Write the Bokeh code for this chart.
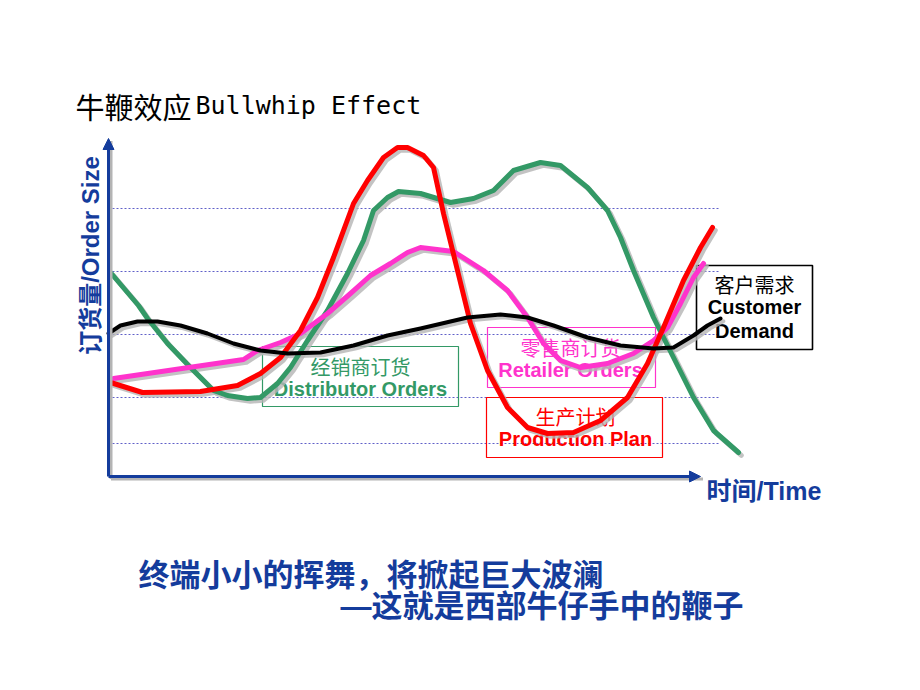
from bokeh.plotting import figure
from bokeh.models import ColumnDataSource, Range1d, Arrow, NormalHead
from bokeh.transform import dodge
from bokeh.core.properties import value
from bokeh.embed import file_html
from bokeh.resources import INLINE

# ---------------- data (time units, order-size units) ----------------
green_t = [0.2, 3.0, 3.9, 5.9, 8.2, 10.5, 11.9, 13.9, 15.2, 16.9, 18.2, 19.9, 21.9, 23.9, 25.5, 26.5,
           27.9, 29.0, 31.2, 34.2, 36.5, 38.5, 40.5, 43.2, 45.2, 47.9, 49.9, 51.2, 52.5, 54.5, 56.5,
           58.5, 60.5, 63.0]
green_v = [20.3, 17.0, 15.7, 13.2, 10.8, 8.5, 8.0, 7.7, 7.8, 9.2, 10.8, 13.5, 16.5, 20.2, 23.5, 26.5,
           27.8, 28.4, 28.2, 27.3, 27.7, 28.5, 30.5, 31.3, 31.0, 28.8, 26.5, 23.8, 20.5, 15.8, 11.8,
           7.8, 4.5, 2.3]

red_t = [0.2, 3.4, 9.2, 12.9, 15.2, 17.2, 19.2, 20.9, 22.5, 24.5, 25.9, 27.5, 28.9, 29.9, 31.5, 32.5,
         33.5, 34.9, 36.2, 37.9, 39.9, 41.9, 43.9, 46.5, 49.2, 51.9, 53.9, 55.5, 57.5, 59.2, 60.4]
red_v = [9.3, 8.3, 8.4, 9.0, 10.2, 11.8, 14.5, 17.8, 21.8, 27.2, 29.5, 31.8, 32.8, 32.8, 32.0, 30.8,
         26.2, 20.5, 15.2, 10.5, 6.8, 4.8, 4.2, 4.3, 5.5, 7.8, 11.2, 14.8, 19.5, 22.8, 24.8]

pink_t = [0.5, 13.5, 14.9, 17.2, 19.2, 21.9, 24.2, 26.2, 28.2, 29.9, 31.2, 34.5, 37.5, 39.9, 41.9,
          43.5, 45.2, 47.2, 49.9, 52.5, 54.5, 55.9, 57.2, 58.5, 59.5]
pink_v = [9.7, 11.6, 12.5, 13.3, 14.2, 16.2, 18.2, 20.0, 21.2, 22.3, 22.8, 22.4, 20.5, 18.5, 15.8,
          13.2, 11.5, 10.8, 11.2, 12.2, 13.5, 14.8, 17.2, 19.8, 21.2]

black_t = [0.0, 1.2, 2.9, 4.9, 7.2, 9.9, 12.5, 15.2, 17.9, 21.2, 24.5, 27.9, 31.2, 35.9, 39.2, 41.9,
           44.5, 47.9, 51.2, 54.5, 56.5, 58.5, 59.9, 61.2]
black_v = [14.2, 15.0, 15.4, 15.4, 15.0, 14.2, 13.2, 12.5, 12.2, 12.3, 13.0, 14.0, 14.7, 15.8, 16.1,
           15.8, 15.0, 13.8, 13.0, 12.7, 12.8, 14.0, 15.0, 15.7]

grid_levels = [26.7, 20.4, 14.1, 7.8, 3.2]

title_cn = "牛鞭效应"
title_en = "Bullwhip Effect"
y_label = "订货量/Order Size"
x_label = "时间/Time"
caption_1 = "终端小小的挥舞，将掀起巨大波澜"
caption_2 = "—这就是西部牛仔手中的鞭子"

labels_cn = ["经销商订货", "零售商订货", "生产计划", "客户需求"]
labels_en = [["Distributor Orders"], ["Retailer Orders"], ["Production Plan"], ["Customer", "Demand"]]

# ---------------- styles / layout ----------------
BLUE = "#143c9c"
GREEN = "#339966"
PINK = "#ff33cc"
RED = "#ff0000"
BLACK = "#000000"
SHADOW = "#b4b4b4"
CJK = "Noto Sans CJK SC"
MIX = "Liberation Sans, Noto Sans CJK SC"

p = figure(width=904, height=674, x_range=Range1d(-10.8, 79.6), y_range=Range1d(-19.9, 47.5),
           x_axis_type=None, y_axis_type=None, output_backend="svg", toolbar_location=None,
           min_border=0)
p.outline_line_color = None
p.background_fill_color = "white"
p.border_fill_color = "white"

# dotted horizontal guide lines
p.segment(x0=[0.4] * len(grid_levels), x1=[61.0] * len(grid_levels), y0=grid_levels, y1=grid_levels,
          line_color="#6060c8", line_width=1, line_dash="2 2")

# label boxes (behind curves)
boxes = dict(left=[15.4, 37.9, 37.8, 58.8], right=[35.0, 54.7, 55.4, 70.4],
             top=[12.9, 14.8, 7.8, 21.0], bottom=[6.9, 8.8, 1.8, 12.6],
             color=[GREEN, PINK, RED, BLACK], width=[1.2, 1.2, 1.2, 1.6])
p.quad(left="left", right="right", top="top", bottom="bottom", source=ColumnDataSource(boxes),
       fill_color=None, line_color="color", line_width="width")

centers_x = [25.2, 46.2, 46.7, 64.6]
cn_y = [10.9, 12.8, 5.9, 19.1]
colors = [GREEN, PINK, RED, BLACK]
for i in range(4):
    p.text(x=[centers_x[i]], y=[cn_y[i]], text=[labels_cn[i]], text_font=value(CJK),
           text_font_size="20px", text_color=colors[i], text_align="center", text_baseline="middle")
    for j, line in enumerate(labels_en[i]):
        p.text(x=[centers_x[i]], y=[cn_y[i] - 2.25 - 2.4 * j], text=[line],
               text_font=value("Liberation Sans"), text_font_style="bold", text_font_size="20px",
               text_color=colors[i], text_align="center", text_baseline="middle")

# axes
for xs, ys, xe, ye in [(0, -0.1, 0, 33.7), (0, -0.1, 59.2, -0.1)]:
    p.add_layout(Arrow(end=None, x_start=xs + 0.25, y_start=ys - 0.25, x_end=xe + 0.25, y_end=ye - 0.25,
                       line_color=SHADOW, line_width=3))
    p.add_layout(Arrow(end=NormalHead(size=11, fill_color=BLUE, line_color=BLUE),
                       x_start=xs, y_start=ys, x_end=xe, y_end=ye, line_color=BLUE, line_width=3))

# curves with drop shadows
series = [(green_t, green_v, GREEN, 5), (pink_t, pink_v, PINK, 5), (red_t, red_v, RED, 5),
          (black_t, black_v, BLACK, 4)]
for t, v, c, w in series:
    src = ColumnDataSource(dict(t=t, v=v))
    p.line(x=dodge("t", 0.28), y=dodge("v", -0.28), source=src, line_color=SHADOW, line_width=w,
           line_alpha=0.8, line_join="round", line_cap="round")
for t, v, c, w in series:
    src = ColumnDataSource(dict(t=t, v=v))
    p.line(x="t", y="v", source=src, line_color=c, line_width=w, line_join="round", line_cap="round")

# titles and axis labels
p.text(x=[-3.3], y=[37.0], text=[title_cn], text_font=value(CJK), text_font_size="29px",
       text_color="black", text_baseline="middle")
p.text(x=[8.7], y=[37.0], text=[title_en], text_font=value("DejaVu Sans Mono"), text_font_size="25px",
       text_color="black", text_baseline="middle")
p.text(x=[-1.8], y=[22.0], text=[y_label], text_font=value(MIX), text_font_style="bold",
       text_font_size="24px", text_color=BLUE, text_align="center", text_baseline="middle", angle=1.5708)
p.text(x=[59.8], y=[-1.5], text=[x_label], text_font=value(MIX), text_font_style="bold",
       text_font_size="25px", text_color=BLUE, text_baseline="middle")
p.text(x=[3.0], y=[-9.7], text=[caption_1], text_font=value(CJK), text_font_style="bold",
       text_font_size="31px", text_color=BLUE, text_baseline="middle")
p.text(x=[23.2], y=[-13.1], text=[caption_2], text_font=value(MIX), text_font_style="bold",
       text_font_size="31px", text_color=BLUE, text_baseline="middle")

open("out.html", "w").write(file_html(p, INLINE))
